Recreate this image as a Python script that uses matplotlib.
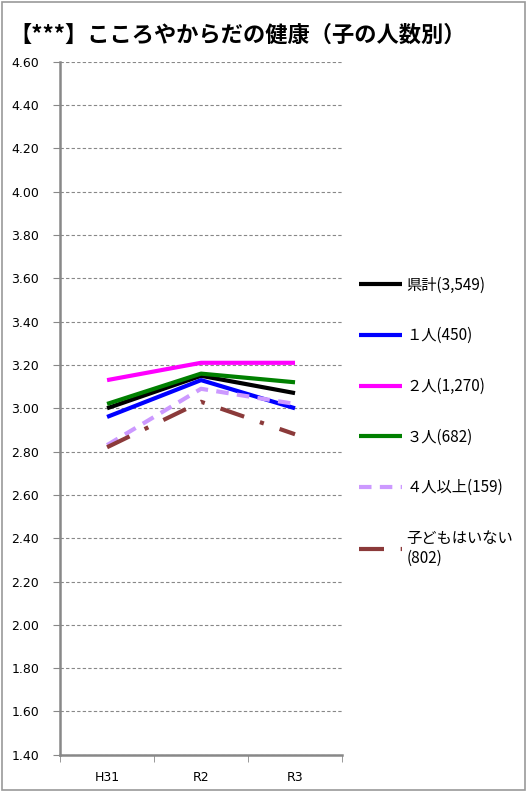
import matplotlib
matplotlib.use("Agg")
import matplotlib.pyplot as plt
from matplotlib.patches import Rectangle

plt.rcParams['font.family'] = ['Noto Sans CJK JP', 'DejaVu Sans']

years = ["H31", "R2", "R3"]
names = ["県計(3,549)", "１人(450)", "２人(1,270)", "３人(682)", "４人以上(159)", "子どもはいない\n(802)"]
total = [3.00, 3.15, 3.07]
one = [2.96, 3.13, 3.00]
two = [3.13, 3.21, 3.21]
three = [3.02, 3.16, 3.12]
four_plus = [2.83, 3.09, 3.02]
no_child = [2.82, 3.03, 2.88]
yticks = [1.40, 1.60, 1.80, 2.00, 2.20, 2.40, 2.60, 2.80, 3.00, 3.20, 3.40, 3.60, 3.80, 4.00, 4.20, 4.40, 4.60]

series = [total, one, two, three, four_plus, no_child]
colors = ["#000000", "#0000ff", "#ff00ff", "#008000", "#cc99ff", "#8b3a3a"]
styles = ["-", "-", "-", "-", (0, (3, 2)), (0, (6, 4, 1, 4))]

fig = plt.figure(figsize=(5.27, 7.92), dpi=100)
fig.patches.append(Rectangle((0.003, 0.003), 0.994, 0.994, transform=fig.transFigure,
                             fill=False, edgecolor="#999999", linewidth=1.2))
fig.text(0.018, 0.955, "【***】こころやからだの健康（子の人数別）", fontsize=16,
         fontweight="bold", va="center", ha="left")

ax = fig.add_axes([0.114, 0.047, 0.535, 0.875])
x = range(len(years))
handles = []
for s, c, ls, n in zip(series, colors, styles, names):
    h, = ax.plot(x, s, color=c, linestyle=ls, linewidth=3, label=n,
                 solid_capstyle="butt", dash_capstyle="butt")
    handles.append(h)

ax.set_xlim(-0.5, 2.5)
ax.set_ylim(1.40, 4.60)
ax.set_yticks(yticks)
ax.set_yticklabels([f"{v:.2f}" for v in yticks], fontsize=9, family="DejaVu Sans")
ax.set_xticks(x)
ax.set_xticklabels(years, fontsize=9, family="DejaVu Sans")
ax.set_xticks([-0.5, 0.5, 1.5, 2.5], minor=True)
ax.tick_params(axis="x", which="major", length=0, pad=12)
ax.tick_params(axis="x", which="minor", length=5, color="#888888")
ax.tick_params(axis="y", length=5, color="#888888", pad=10)
ax.grid(axis="y", color="#888888", linestyle=(0, (3, 2)), linewidth=0.8)
for sp in ["top", "right"]:
    ax.spines[sp].set_visible(False)
for sp in ["left", "bottom"]:
    ax.spines[sp].set_color("#888888")
    ax.spines[sp].set_linewidth(1.8)

fig.legend(handles=handles, loc="upper left", bbox_to_anchor=(0.655, 0.668),
           frameon=False, fontsize=11, handlelength=2.8, handletextpad=0.3,
           labelspacing=2.2)

fig.savefig("out.png", dpi=100)
